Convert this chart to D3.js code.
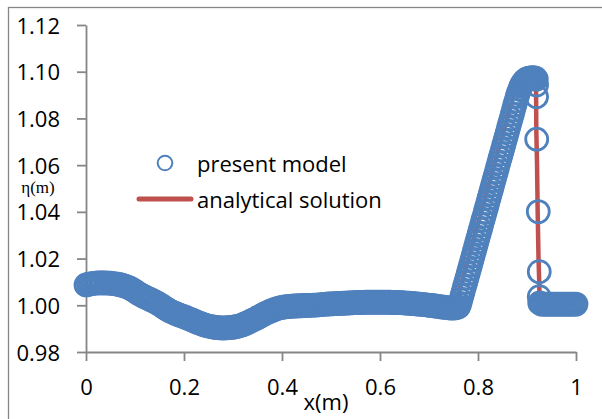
<!DOCTYPE html>
<html>
<head>
<meta charset="utf-8">
<script src="https://cdn.jsdelivr.net/npm/d3@7"></script>
<style>
  html, body { margin: 0; padding: 0; background: #fff; }
  svg { display: block; }
  text { font-family: "Open Sans", "Noto Sans", sans-serif; fill: #000; }
</style>
</head>
<body>
<svg id="chart" width="602" height="419"></svg>
<script>
// Free-surface elevation eta(x) of the numerical model: [x (m), eta (m)]
const modelTrough = [
  [0,1.0087],[0.005,1.0090],[0.01,1.0092],[0.015,1.0094],[0.02,1.0095],[0.025,1.0096],[0.03,1.0096],[0.035,1.0096],
  [0.04,1.0096],[0.045,1.0095],[0.05,1.0095],[0.055,1.0093],[0.06,1.0092],[0.065,1.0090],[0.07,1.0088],[0.075,1.0085],
  [0.08,1.0082],[0.085,1.0078],[0.09,1.0073],[0.095,1.0067],[0.1,1.0061],[0.105,1.0053],[0.11,1.0047],[0.115,1.0041],
  [0.12,1.0036],[0.125,1.0031],[0.13,1.0026],[0.135,1.0021],[0.14,1.0016],[0.145,1.0010],[0.15,1.0004],[0.155,0.9997],
  [0.16,0.9990],[0.165,0.9983],[0.17,0.9977],[0.175,0.9972],[0.18,0.9967],[0.185,0.9963],[0.19,0.9959],[0.195,0.9955],
  [0.2,0.9951],[0.205,0.9947],[0.21,0.9942],[0.215,0.9938],[0.22,0.9934],[0.225,0.9929],[0.23,0.9925],[0.235,0.9921],
  [0.24,0.9917],[0.245,0.9914],[0.25,0.9911],[0.255,0.9909],[0.26,0.9907],[0.265,0.9905],[0.27,0.9904],[0.275,0.9903],
  [0.28,0.9903],[0.285,0.9903],[0.29,0.9904],[0.295,0.9905],[0.3,0.9906],[0.305,0.9908],[0.31,0.9910],[0.315,0.9913],
  [0.32,0.9917],[0.325,0.9921],[0.33,0.9926],[0.335,0.9931],[0.34,0.9936],[0.345,0.9941],[0.35,0.9947],[0.355,0.9952],
  [0.36,0.9958],[0.365,0.9964],[0.37,0.9969],[0.375,0.9974],[0.38,0.9978],[0.385,0.9982],[0.39,0.9986],[0.395,0.9989]
];
const modelPlateau = [
  [0.4,0.9991],[0.405,0.9993],[0.41,0.9994],[0.415,0.9995],[0.42,0.9996],[0.425,0.9997],[0.43,0.9997],[0.435,0.9998],
  [0.44,0.9998],[0.445,0.9999],[0.45,0.9999],[0.455,1.0000],[0.46,1.0000],[0.465,1.0001],[0.47,1.0001],[0.475,1.0002],
  [0.48,1.0003],[0.485,1.0004],[0.49,1.0005],[0.495,1.0006],[0.5,1.0006],[0.505,1.0007],[0.51,1.0007],[0.515,1.0008],
  [0.52,1.0008],[0.525,1.0009],[0.53,1.0009],[0.535,1.0010],[0.54,1.0010],[0.545,1.0011],[0.55,1.0011],[0.555,1.0012],
  [0.56,1.0012],[0.565,1.0012],[0.57,1.0013],[0.575,1.0013],[0.58,1.0013],[0.585,1.0013],[0.59,1.0013],[0.595,1.0013],
  [0.6,1.0013],[0.605,1.0013],[0.61,1.0013],[0.615,1.0013],[0.62,1.0013],[0.625,1.0012],[0.63,1.0012],[0.635,1.0012],
  [0.64,1.0011],[0.645,1.0011],[0.65,1.0010],[0.655,1.0009],[0.66,1.0009],[0.665,1.0008],[0.67,1.0007],[0.675,1.0006],
  [0.68,1.0005],[0.685,1.0004],[0.69,1.0003],[0.695,1.0002],[0.7,1.0000],[0.705,0.9999],[0.71,0.9998],[0.715,0.9996],
  [0.72,0.9995],[0.725,0.9993],[0.73,0.9992],[0.735,0.9991],[0.74,0.9989],[0.745,0.9988],[0.75,0.9988],[0.755,0.9989],
  [0.76,0.9993]
];
const modelFront = [
  [0.7625,1.0004],[0.765,1.0023],[0.7675,1.0042],[0.77,1.0061],[0.7725,1.0080],[0.775,1.0098],[0.7775,1.0117],
  [0.78,1.0136],[0.7825,1.0155],[0.785,1.0174],[0.7875,1.0193],[0.79,1.0212],[0.7925,1.0231],[0.795,1.0250],
  [0.7975,1.0269],[0.8,1.0288],[0.8025,1.0307],[0.805,1.0326],[0.8075,1.0345],[0.81,1.0364],[0.8125,1.0382],
  [0.815,1.0401],[0.8175,1.0420],[0.82,1.0439],[0.8225,1.0458],[0.825,1.0477],[0.8275,1.0496],[0.83,1.0515],
  [0.8325,1.0534],[0.835,1.0553],[0.8375,1.0572],[0.84,1.0591],[0.8425,1.0610],[0.845,1.0629],[0.8475,1.0648],
  [0.85,1.0666],[0.8525,1.0685],[0.855,1.0704],[0.8575,1.0723],[0.86,1.0742],[0.8625,1.0761],[0.865,1.0780],
  [0.8675,1.0799],[0.87,1.0818],[0.8725,1.0837],[0.875,1.0856],[0.8775,1.0875],[0.88,1.0894],[0.8825,1.0910],
  [0.885,1.0925],[0.8875,1.0937],[0.89,1.0947],[0.8925,1.0955],[0.895,1.0961],[0.8975,1.0966],[0.9,1.0969],
  [0.9025,1.0971],[0.905,1.0972],[0.9075,1.0973],[0.91,1.0973],[0.9125,1.0973],[0.915,1.0973],[0.9175,1.0972],
  [0.919,1.0968]
];
const modelDrop = [
  [0.9195,1.0943],[0.9195,1.0893],[0.9198,1.0711],[0.923,1.0401],[0.925,1.0144],[0.925,1.0037],[0.926,1.0010]
];
const modelShelf = [
  [0.93,1.0005],[0.935,1.0005],[0.94,1.0005],[0.945,1.0005],[0.95,1.0005],[0.955,1.0005],[0.96,1.0005],[0.965,1.0005],
  [0.97,1.0005],[0.975,1.0005],[0.98,1.0005],[0.985,1.0005],[0.99,1.0005],[0.995,1.0005],[1.0,1.0005]
];

// Analytical bore profile: [x (m), eta (m)]
const analytical = [
  [0.7538,1.0],[0.8818,1.0970],[0.9184,1.0970],[0.9190,1.075],[0.9205,1.06],[0.9218,1.04],
  [0.9235,1.02],[0.9251,1.009],[0.9255,1.0],[1.0,1.0]
];

const xTicks = [0, 0.2, 0.4, 0.6, 0.8, 1];
const xTickLabels = ["0", "0.2", "0.4", "0.6", "0.8", "1"];
const yTicks = [0.98, 1.00, 1.02, 1.04, 1.06, 1.08, 1.10, 1.12];
const yTickLabels = ["0.98", "1.00", "1.02", "1.04", "1.06", "1.08", "1.10", "1.12"];
const seriesNames = ["present model", "analytical solution"];

const blue = "#4F81BD", red = "#C0504D", axisGrey = "#868686";

const svg = d3.select("#chart");

// outer chart frame
svg.append("rect")
  .attr("x", 8.5).attr("y", 7.5).attr("width", 640).attr("height", 460)
  .attr("fill", "none").attr("stroke", axisGrey).attr("stroke-width", 1.3);

const x = d3.scaleLinear().domain([0, 1]).range([86, 576]);
const y = d3.scaleLinear().domain([0.98, 1.12]).range([352, 25]);

// axes
const yAxis = d3.axisLeft(y).tickValues(yTicks).tickSize(9).tickSizeOuter(0)
  .tickFormat((d, i) => yTickLabels[i]);
const xAxis = d3.axisBottom(x).tickValues(xTicks).tickSize(9).tickSizeOuter(0)
  .tickFormat((d, i) => xTickLabels[i]);

const gy = svg.append("g").attr("transform", `translate(${x(0)},0)`).call(yAxis);
const gx = svg.append("g").attr("transform", `translate(0,${y(0.98)})`).call(xAxis);

[gx, gy].forEach(g => {
  g.select(".domain").attr("stroke", axisGrey).attr("stroke-width", 1.8);
  g.selectAll(".tick line").attr("stroke", axisGrey).attr("stroke-width", 1.8);
  g.selectAll(".tick text")
    .style("font-family", '"Open Sans", sans-serif')
    .style("font-size", "22px")
    .attr("fill", "#000");
});
gy.selectAll(".tick text").attr("x", -26).attr("dy", null).attr("y", 8);
gx.selectAll(".tick text").attr("dy", null).attr("y", 43);

// axis titles
svg.append("text").attr("x", 326).attr("y", 410).attr("text-anchor", "middle")
  .style("font-size", "22px").text("x(m)");
svg.append("text").attr("x", 38).attr("y", 193).attr("text-anchor", "middle")
  .style("font-family", '"Liberation Serif", "DejaVu Serif", serif')
  .style("font-size", "17px").text("η(m)");

// analytical solution underneath the model markers
svg.append("path")
  .datum(analytical)
  .attr("d", d3.line().x(d => x(d[0])).y(d => y(d[1])))
  .attr("fill", "none").attr("stroke", red).attr("stroke-width", 4.5)
  .attr("stroke-linejoin", "round").attr("stroke-linecap", "round");

// present model: hollow circle markers
const model = [].concat(modelTrough, modelPlateau, modelFront, modelDrop, modelShelf);
svg.append("g").selectAll("circle")
  .data(model).join("circle")
  .attr("cx", d => x(d[0])).attr("cy", d => y(d[1])).attr("r", 11)
  .attr("fill", "none").attr("stroke", blue).attr("stroke-width", 2.8);

// legend
const lg = svg.append("g");
lg.append("circle").attr("cx", 165).attr("cy", 163).attr("r", 7.3)
  .attr("fill", "none").attr("stroke", blue).attr("stroke-width", 2);
lg.append("line").attr("x1", 139).attr("x2", 191).attr("y1", 199).attr("y2", 199)
  .attr("stroke", red).attr("stroke-width", 5).attr("stroke-linecap", "round");
lg.selectAll("text.lab").data(seriesNames).join("text")
  .attr("class", "lab")
  .attr("x", 197).attr("y", (d, i) => i === 0 ? 172 : 208)
  .style("font-size", "22px").text(d => d);
</script>
</body>
</html>
